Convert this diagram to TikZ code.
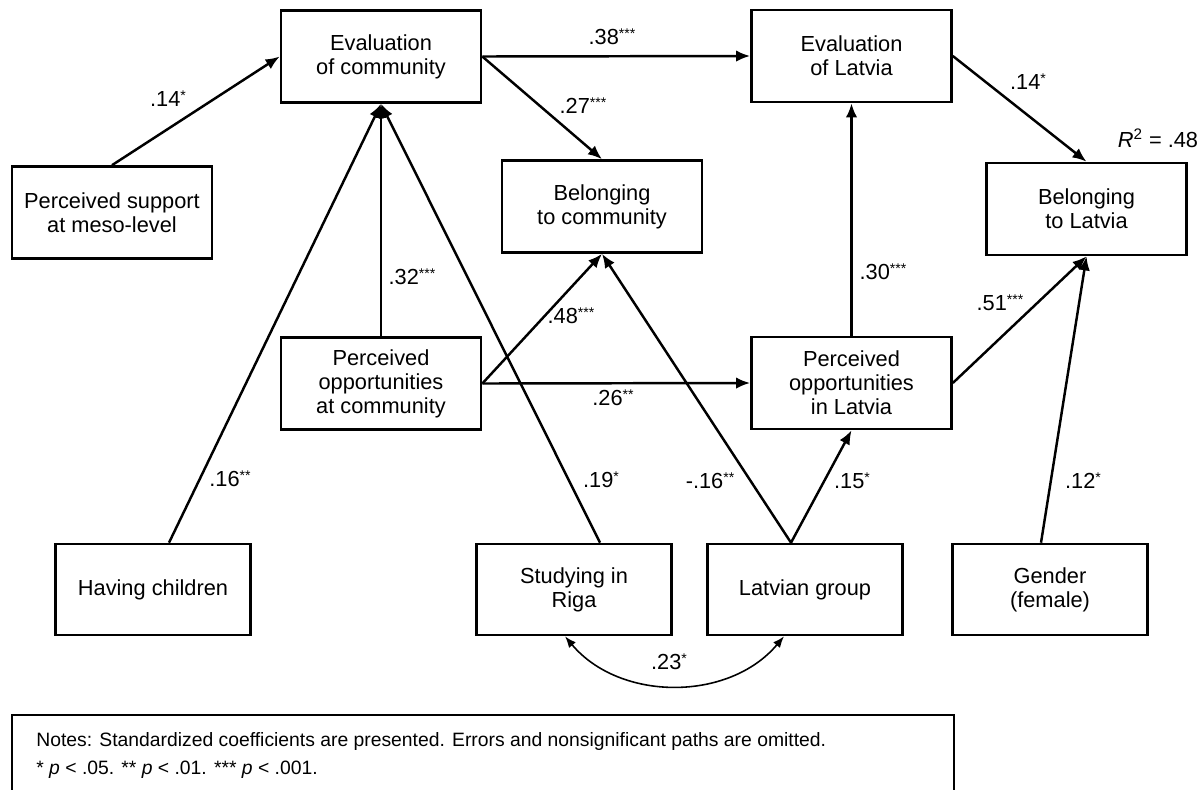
\documentclass[tikz,border=0pt]{standalone}
\usepackage{fontspec}
\setmainfont{Liberation Sans}
\usetikzlibrary{arrows.meta}
\newcommand{\sig}[1]{\raisebox{3.3pt}{\fontsize{8}{8}\selectfont #1}}

\begin{document}
\begin{tikzpicture}[
        box/.style={draw, line width=1.5pt, minimum width=4cm, minimum height=1.84cm, inner sep=0pt, align=center, font=\fontsize{12.4}{13.6}\selectfont},
        lowbox/.style={box, minimum width=3.9cm, minimum height=1.82cm},
        coef/.style={inner sep=1pt, font=\fontsize{12.4}{13.6}\selectfont},
        path/.style={line width=1.4pt, -{Latex[length=8pt,width=6.5pt]}},
        covar/.style={line width=0.9pt, {Latex[length=6.5pt,width=5pt]}-{Latex[length=6.5pt,width=5pt]}}
    ]
        \useasboundingbox (0,0) rectangle (24.08,-15.78);
        \node [box] (evalcom) at (7.62,-1.13) {Evaluation\\of community};
        \node [box] (evallat) at (17.03,-1.12) {Evaluation\\of Latvia};
        \node [box] (support) at (2.24,-4.25) {Perceived support\\at meso-level};
        \node [box] (belcom) at (12.04,-4.13) {Belonging\\to community};
        \node [box] (bellat) at (21.73,-4.18) {Belonging\\to Latvia};
        \node [box] (oppcom) at (7.62,-7.67) {Perceived\\opportunities\\at community};
        \node [box] (opplat) at (17.03,-7.66) {Perceived\\opportunities\\in Latvia};
        \node [lowbox] (children) at (3.06,-11.79) {Having children};
        \node [lowbox] (riga) at (11.48,-11.79) {Studying in\\Riga};
        \node [lowbox] (latgroup) at (16.1,-11.79) {Latvian group};
        \node [lowbox] (gender) at (21.0,-11.79) {Gender\\(female)};
        \draw [path] (support.north) -- (evalcom.west);
        \draw [path] (evalcom.east) -- (evallat.west);
        \draw [path] (evalcom.east) -- (belcom.north);
        \draw [path] (evallat.east) -- (bellat.north);
        \draw [path] ([xshift=0.32cm]children.north) -- (evalcom.south);
        \draw [path] (oppcom.north) -- (evalcom.south);
        \draw [path] ([xshift=0.52cm]riga.north) -- (evalcom.south);
        \draw [path] (oppcom.east) -- (belcom.south);
        \draw [path] (oppcom.east) -- (opplat.west);
        \draw [path] ([xshift=-0.28cm]latgroup.north) -- (belcom.south);
        \draw [path] ([xshift=-0.28cm]latgroup.north) -- (opplat.south);
        \draw [path] (opplat.north) -- (evallat.south);
        \draw [path] (opplat.east) -- (bellat.south);
        \draw [path] ([xshift=-0.18cm]gender.north) -- (bellat.south);
        \draw [covar] ([xshift=-0.18cm]riga.south) to [bend right=50] ([xshift=-0.42cm]latgroup.south);
        \node [coef] (lab14a) at (3.36,-1.98) {.14\sig{*}};
        \node [coef] (lab38) at (12.24,-0.74) {.38\sig{***}};
        \node [coef] (lab27) at (11.66,-2.12) {.27\sig{***}};
        \node [coef] (lab14b) at (20.56,-1.64) {.14\sig{*}};
        \node [coef] (rsq) at (23.16,-2.77) {\textit{R}\textsuperscript{2} = .48};
        \node [coef] (lab32) at (8.24,-5.54) {.32\sig{***}};
        \node [coef] (lab48) at (11.42,-6.32) {.48\sig{***}};
        \node [coef] (lab26) at (12.26,-7.96) {.26\sig{**}};
        \node [coef] (lab30) at (17.66,-5.44) {.30\sig{***}};
        \node [coef] (lab51) at (20.0,-6.06) {.51\sig{***}};
        \node [coef] (lab16a) at (4.6,-9.58) {.16\sig{**}};
        \node [coef] (lab19) at (12.02,-9.6) {.19\sig{*}};
        \node [coef] (lab16b) at (14.2,-9.62) {-.16\sig{**}};
        \node [coef] (lab15) at (17.04,-9.62) {.15\sig{*}};
        \node [coef] (lab12) at (21.66,-9.62) {.12\sig{*}};
        \node [coef] (lab23) at (13.38,-13.24) {.23\sig{*}};
        \draw [line width=1.5pt] (0.24,-14.3) rectangle (19.08,-16.5);
        \node [anchor=north west, align=left, inner sep=0pt, font=\fontsize{11}{15.8}\selectfont] (notes) at (0.72,-14.65) {Notes: Standardized coefficients are presented. Errors and nonsignificant paths are omitted.\\* \textit{p} < .05. ** \textit{p} < .01. *** \textit{p} < .001.};
    \end{tikzpicture}
\end{document}
